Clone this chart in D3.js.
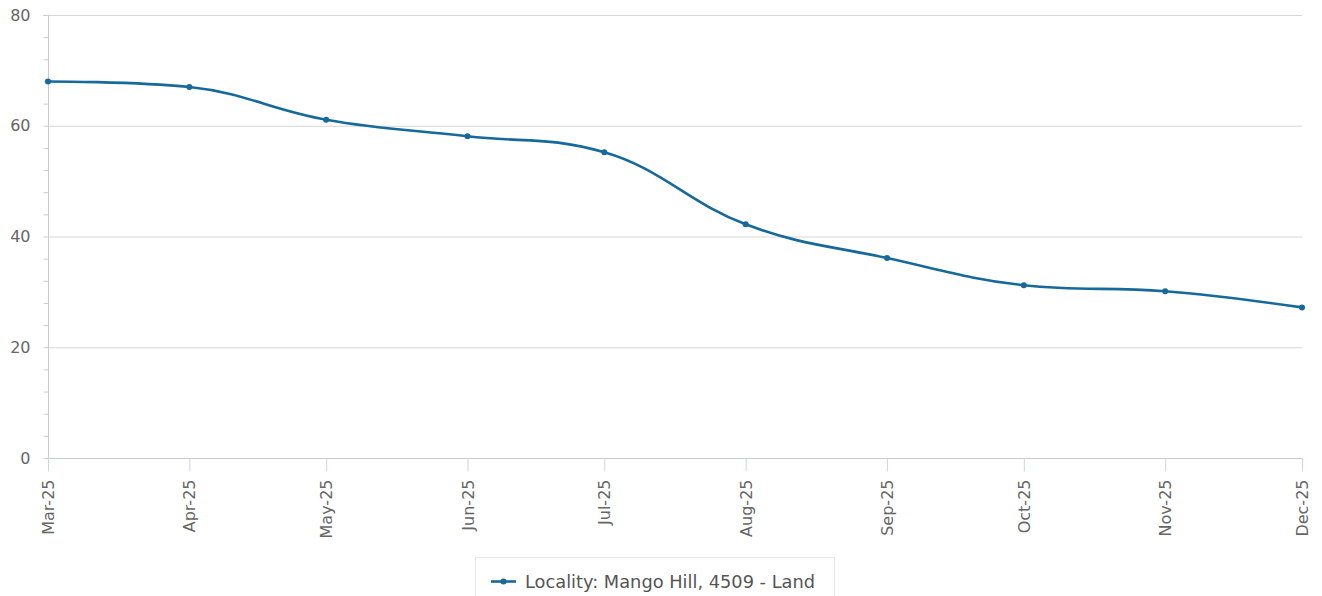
<!DOCTYPE html>
<html><head><meta charset="utf-8">
<script src="https://cdn.jsdelivr.net/npm/d3@7/dist/d3.min.js"></script>
<style>html,body{margin:0;padding:0;background:#fff;}svg{display:block;font-family:"DejaVu Sans",sans-serif;}</style>
</head><body>
<svg id="c" width="1322" height="596"></svg>
<script>
const months = ["2025-03-01","2025-04-01","2025-05-01","2025-06-01","2025-07-01","2025-08-01","2025-09-01","2025-10-01","2025-11-01","2025-12-01"];
const values = [68, 67, 61.1, 58.1, 55.2, 42.2, 36.1, 31.2, 30.1, 27.2];
const yTicks = [0, 20, 40, 60, 80];
const seriesName = "Locality: Mango Hill, 4509 - Land";

const parse = d3.utcParse("%Y-%m-%d");
const dates = months.map(parse);
const W = 1322, H = 596;
const m = {l: 48, r: 1302, t: 15, b: 458};
const svg = d3.select("#c");
const x = d3.scaleUtc().domain(d3.extent(dates)).range([m.l, m.r]);
const y = d3.scaleLinear().domain([0, 80]).range([m.b, m.t]);
const color = "#16699b";

// Highcharts-like spline curve
function HCSpline(ctx){ this._context = ctx; }
HCSpline.prototype = {
  areaStart(){}, areaEnd(){},
  lineStart(){ this._p = []; },
  point(px, py){ this._p.push([+px, +py]); },
  lineEnd(){
    const p = this._p, n = p.length, c = this._context, s = 1.5, den = s + 1;
    if (!n) return;
    const L = [], R = [];
    for (let i = 1; i < n - 1; i++) {
      const [lx, ly] = p[i-1], [X, Y] = p[i], [nx, ny] = p[i+1];
      let lcx = (s*X + lx)/den, lcy = (s*Y + ly)/den, rcx = (s*X + nx)/den, rcy = (s*Y + ny)/den;
      if (rcx !== lcx) { const corr = ((rcy - lcy)*(rcx - X))/(rcx - lcx) + Y - rcy; lcy += corr; rcy += corr; }
      if (lcy > ly && lcy > Y) { lcy = Math.max(ly, Y); rcy = 2*Y - lcy; }
      else if (lcy < ly && lcy < Y) { lcy = Math.min(ly, Y); rcy = 2*Y - lcy; }
      if (rcy > ny && rcy > Y) { rcy = Math.max(ny, Y); lcy = 2*Y - rcy; }
      else if (rcy < ny && rcy < Y) { rcy = Math.min(ny, Y); lcy = 2*Y - rcy; }
      L[i] = [lcx, lcy]; R[i] = [rcx, rcy];
    }
    c.moveTo(p[0][0], p[0][1]);
    for (let i = 1; i < n; i++) {
      const c1 = R[i-1] || p[i-1], c2 = L[i] || p[i];
      c.bezierCurveTo(c1[0], c1[1], c2[0], c2[1], p[i][0], p[i][1]);
    }
  }
};
const hcCurve = ctx => new HCSpline(ctx);

// grid lines
svg.append("g").selectAll("line").data(yTicks).join("line")
  .attr("x1", d => d === 80 ? m.l - 5 : m.l).attr("x2", m.r)
  .attr("y1", d => y(d) + 0.5).attr("y2", d => y(d) + 0.5)
  .attr("stroke", "#d6d6d6").attr("stroke-width", 1);

// y axis
const yAxis = svg.append("g").attr("transform", `translate(${m.l + 0.5},0)`)
  .call(d3.axisLeft(y).tickValues(d3.range(0, 81, 4)).tickSize(5).tickFormat(d => yTicks.includes(d) ? d : ""));
yAxis.select(".domain").attr("stroke", "#cccccc").attr("d", `M0,${m.t}V${m.b}`);
yAxis.selectAll(".tick line").attr("stroke", "#cccccc");
yAxis.selectAll(".tick text").attr("fill", "#666").attr("font-size", 16).attr("x", -18).attr("font-family", "DejaVu Sans");

// x axis
const xAxis = svg.append("g").attr("transform", `translate(0,${m.b + 0.5})`)
  .call(d3.axisBottom(x).tickValues(dates).tickSize(13).tickFormat(d3.utcFormat("%b-%y")));
xAxis.select(".domain").attr("stroke", "#cccccc").attr("d", `M${m.l},0H${m.r}`);
xAxis.selectAll(".tick line").attr("stroke", "#ccd6eb");
xAxis.selectAll(".tick text").attr("fill", "#666").attr("font-size", 16).attr("font-family", "DejaVu Sans")
  .attr("text-anchor", "end").attr("transform", "rotate(-90)").attr("x", -21).attr("y", 0).attr("dy", "0.35em");

// line
const line = d3.line().x((d, i) => x(dates[i])).y(d => y(d)).curve(hcCurve);
svg.append("path").datum(values).attr("d", line).attr("fill", "none")
  .attr("stroke", color).attr("stroke-width", 2.6).attr("stroke-linejoin", "round").attr("stroke-linecap", "round");
svg.append("g").selectAll("circle").data(values).join("circle")
  .attr("cx", (d, i) => x(dates[i])).attr("cy", d => y(d)).attr("r", 3).attr("fill", color);

// legend
const lg = svg.append("g");
lg.append("rect").attr("x", 475.5).attr("y", 557.5).attr("width", 359).attr("height", 60)
  .attr("fill", "none").attr("stroke", "#e8e8e8").attr("rx", 0);
lg.append("line").attr("x1", 491).attr("x2", 516).attr("y1", 581.5).attr("y2", 581.5)
  .attr("stroke", color).attr("stroke-width", 2.6);
lg.append("circle").attr("cx", 503.5).attr("cy", 581.5).attr("r", 3).attr("fill", color);
lg.append("text").attr("x", 525).attr("y", 587.5).attr("font-size", 17.8).attr("fill", "#555").text(seriesName);
</script>
</body></html>
